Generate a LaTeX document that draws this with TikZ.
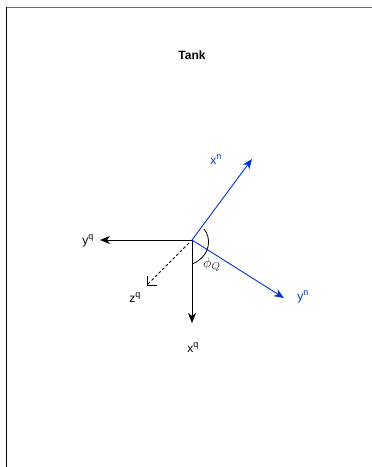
\documentclass[tikz,border=0pt]{standalone}
\usepackage{fontspec}
\setmainfont{Liberation Sans}
\usetikzlibrary{arrows.meta}
\definecolor{axblue}{RGB}{0,51,204}
\definecolor{framegrey}{RGB}{110,110,110}
\newcommand{\upidx}[1]{\raisebox{5pt}{\fontsize{9}{9}\selectfont #1}}
\begin{document}
\begin{tikzpicture}[x=1pt,y=-1pt,
  lbl/.style={font=\fontsize{12}{14}\selectfont, inner sep=0pt},
  ax/.style={line width=0.9pt, -{Stealth[length=10pt,width=8pt,inset=3pt]}},
  blueax/.style={ax, draw=axblue}]
\useasboundingbox (0,0) rectangle (372,467);
% frame
\draw[framegrey, line width=1.6pt] (6.5,7.5) -- (372,7.5);
\draw[black, line width=1.4pt] (6.5,7) -- (6.5,467);
\node[font=\bfseries\fontsize{12}{14}\selectfont] (title) at (192,55) {Tank};
% origin
\coordinate (o) at (192,240);
\coordinate (yqend) at (100,240);
\coordinate (xqend) at (192,323);
\coordinate (xnend) at (252,159);
\coordinate (ynend) at (284,298);
\coordinate (zqstart) at (189,243);
\coordinate (zqend) at (147,285);
\draw[ax] (o) -- (yqend);
\draw[ax] (o) -- (xqend);
\draw[blueax] (o) -- (xnend);
\draw[blueax] (o) -- (ynend);
\draw[line width=0.8pt, dash pattern=on 3pt off 2pt] (zqstart) -- (zqend);
\draw[line width=0.8pt] (147,276) -- (zqend) -- (157,285);
% angle arc
\draw[line width=0.8pt] (204,229) .. controls (211,237) and (212,255) .. (192.5,264);
% labels
\node[lbl, text=axblue] (xnl) at (216,160) {x\upidx{n}};
\node[lbl, text=axblue] (ynl) at (303,297) {y\upidx{n}};
\node[lbl] (yql) at (88,241) {y\upidx{q}};
\node[lbl] (zql) at (135,298) {z\upidx{q}};
\node[lbl] (xql) at (193,348) {x\upidx{q}};
\node[inner sep=0pt, text=black!80] (phil) at (212,265) {\scalebox{1.4}{$\phi_Q$}};
\end{tikzpicture}
\end{document}
